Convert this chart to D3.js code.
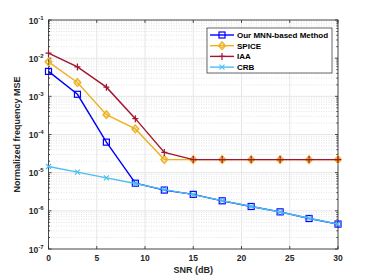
<!DOCTYPE html>
<html><head><meta charset="utf-8">
<script src="https://cdn.jsdelivr.net/npm/d3@7"></script>
<style>body{margin:0;background:#fff;} text{font-family:"Liberation Sans",Arial,sans-serif;}</style>
</head><body>
<svg id="c" width="374" height="280"></svg>
<script>
const snr = [0,3,6,9,12,15,18,21,24,27,30];
const mnn = [4.5e-3,1.13e-3,6.3e-5,5.3e-6,3.5e-6,2.7e-6,1.83e-6,1.3e-6,9.4e-7,6.3e-7,4.5e-7];
const spice = [8e-3,2.3e-3,3.3e-4,1.4e-4,2.2e-5,2.2e-5,2.2e-5,2.2e-5,2.2e-5,2.2e-5,2.2e-5];
const iaa = [1.35e-2,5.9e-3,1.74e-3,2.6e-4,3.4e-5,2.2e-5,2.2e-5,2.2e-5,2.2e-5,2.2e-5,2.2e-5];
const crb = [1.45e-5,1.03e-5,7.3e-6,5.2e-6,3.6e-6,2.65e-6,1.85e-6,1.3e-6,9.3e-7,6.4e-7,4.5e-7];
const seriesNames = ["Our MNN-based Method","SPICE","IAA","CRB"];
const xTicks = [0,5,10,15,20,25,30];
const yExps = [-7,-6,-5,-4,-3,-2,-1];

const svg = d3.select("#c");
const L=48.5, R=338, T=20, B=249;
const x = d3.scaleLinear().domain([0,30]).range([L,R]);
const y = d3.scaleLog().domain([1e-7,1e-1]).range([B,T]);

// minor grid
const minor=[];
for(let e=-7;e<-1;e++) for(let m=2;m<=9;m++) minor.push(m*Math.pow(10,e));
svg.append("g").selectAll("line").data(minor).join("line")
  .attr("x1",L).attr("x2",R).attr("y1",d=>y(d)).attr("y2",d=>y(d))
  .attr("stroke","#d0d0d0").attr("stroke-width",0.6).attr("stroke-dasharray","1,1.5");
// major grid
svg.append("g").selectAll("line").data(yExps).join("line")
  .attr("x1",L).attr("x2",R).attr("y1",d=>y(Math.pow(10,d))).attr("y2",d=>y(Math.pow(10,d)))
  .attr("stroke","#e6e6e6").attr("stroke-width",1);
svg.append("g").selectAll("line").data(xTicks).join("line")
  .attr("y1",T).attr("y2",B).attr("x1",d=>x(d)).attr("x2",d=>x(d))
  .attr("stroke","#e6e6e6").attr("stroke-width",1);

// box
svg.append("rect").attr("x",L).attr("y",T).attr("width",R-L).attr("height",B-T)
  .attr("fill","none").attr("stroke","#262626").attr("stroke-width",0.8);

// ticks inside
const tk=svg.append("g").attr("stroke","#262626").attr("stroke-width",0.8);
xTicks.forEach(d=>{
  tk.append("line").attr("x1",x(d)).attr("x2",x(d)).attr("y1",B).attr("y2",B-3);
  tk.append("line").attr("x1",x(d)).attr("x2",x(d)).attr("y1",T).attr("y2",T+3);
});
yExps.forEach(e=>{
  const yy=y(Math.pow(10,e));
  tk.append("line").attr("x1",L).attr("x2",L+3).attr("y1",yy).attr("y2",yy);
  tk.append("line").attr("x1",R).attr("x2",R-3).attr("y1",yy).attr("y2",yy);
});
minor.forEach(v=>{
  const yy=y(v);
  tk.append("line").attr("x1",L).attr("x2",L+1.6).attr("y1",yy).attr("y2",yy);
  tk.append("line").attr("x1",R).attr("x2",R-1.6).attr("y1",yy).attr("y2",yy);
});

// tick labels
svg.append("g").selectAll("text").data(xTicks).join("text")
  .attr("x",d=>x(d)).attr("y",B+12).attr("text-anchor","middle")
  .attr("font-size",8.5).attr("font-weight","bold").attr("fill","#262626").text(d=>d);
const yl = svg.append("g");
yExps.forEach(e=>{
  const t=yl.append("text").attr("x",L-5).attr("y",y(Math.pow(10,e))+3.5).attr("text-anchor","end")
    .attr("font-size",8.5).attr("font-weight","bold").attr("fill","#262626");
  t.append("tspan").text("10");
  t.append("tspan").attr("dy",-4).attr("font-size",6).text(e);
});

// axis labels
svg.append("text").attr("x",(L+R)/2).attr("y",273).attr("text-anchor","middle")
  .attr("font-size",9).attr("font-weight","bold").attr("fill","#262626").text("SNR (dB)");
svg.append("text").attr("transform",`translate(20,${(T+B)/2}) rotate(-90)`).attr("text-anchor","middle")
  .attr("font-size",9).attr("font-weight","bold").attr("fill","#262626").text("Normalized frequency MSE");

const colors=["#0000ff","#EDB120","#A2142F","#4DBEEE"];
const data=[mnn,spice,iaa,crb];
const line=d3.line().x((d,i)=>x(snr[i])).y(d=>y(d));

function marker(g,k,cx,cy,c){
  if(k===0){ g.append("rect").attr("x",cx-3).attr("y",cy-3).attr("width",6).attr("height",6).attr("fill","none").attr("stroke",c).attr("stroke-width",1.2);}
  else if(k===1){ g.append("path").attr("d",`M${cx},${cy-4}L${cx+3.5},${cy}L${cx},${cy+4}L${cx-3.5},${cy}Z`).attr("fill","none").attr("stroke",c).attr("stroke-width",1.2);
    g.append("circle").attr("cx",cx).attr("cy",cy).attr("r",2).attr("fill","none").attr("stroke",c).attr("stroke-width",0.9);}
  else if(k===2){ g.append("path").attr("d",`M${cx-3},${cy}H${cx+3}M${cx},${cy-3.5}V${cy+3.5}`).attr("stroke",c).attr("stroke-width",1.2);}
  else { g.append("path").attr("d",`M${cx-2.5},${cy-2.5}L${cx+2.5},${cy+2.5}M${cx-2.5},${cy+2.5}L${cx+2.5},${cy-2.5}`).attr("stroke",c).attr("stroke-width",1.1);}
}
const order=[0,1,2,3];
order.forEach(k=>{
  const g=svg.append("g");
  g.append("path").attr("d",line(data[k])).attr("fill","none").attr("stroke",colors[k]).attr("stroke-width",1.4);
  data[k].forEach((v,i)=>marker(g,k,x(snr[i]),y(v),colors[k]));
});

// legend
const lg=svg.append("g");
lg.append("rect").attr("x",207).attr("y",28).attr("width",125).attr("height",45).attr("fill","#fff").attr("stroke","#262626").attr("stroke-width",0.7);
seriesNames.forEach((n,k)=>{
  const yy=35+k*10.7;
  lg.append("line").attr("x1",210).attr("x2",234).attr("y1",yy).attr("y2",yy).attr("stroke",colors[k]).attr("stroke-width",1.4);
  marker(lg,k,222,yy,colors[k]);
  lg.append("text").attr("x",237).attr("y",yy+3).attr("font-size",8).attr("font-weight","bold").attr("fill","#000").text(n);
});
</script>
</body></html>
